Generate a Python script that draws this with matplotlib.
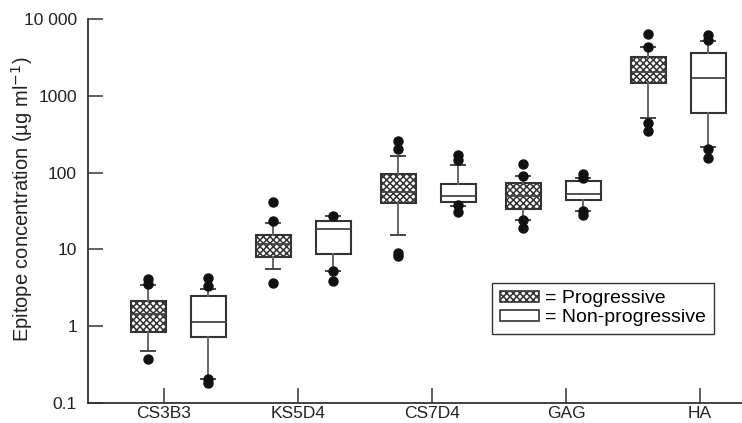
import matplotlib.pyplot as plt
from matplotlib.patches import Patch
from matplotlib.ticker import FixedLocator, NullLocator

plt.rcParams['font.family'] = ['Liberation Sans', 'DejaVu Sans']
plt.rcParams['hatch.linewidth'] = 1.1
plt.rcParams['hatch.color'] = '#333333'

# epitope groups and the five-number summaries
groups = ['CS3B3', 'KS5D4', 'CS7D4', 'GAG', 'HA']

prog_whislo = [0.47, 5.6, 15.2, 23.8, 510]
prog_q1 = [0.85, 7.9, 39.6, 33.1, 1460]
prog_med = [1.45, 11.8, 55.6, 50.3, 2070]
prog_q3 = [2.1, 15.6, 96, 72.8, 3180]
prog_whishi = [3.45, 21.9, 165, 89.8, 4300]
prog_fliers = [[0.37, 3.55, 4.13], [3.63, 23.1, 41.2], [8.15, 8.9, 202, 256],
               [18.9, 23.8, 91.6, 130], [353, 444, 4300, 6400]]

nonp_whislo = [0.206, 5.3, 36.2, 31.4, 214]
nonp_q1 = [0.72, 8.6, 42.0, 44.1, 599]
nonp_med = [1.15, 18.2, 49.3, 51.9, 1730]
nonp_q3 = [2.44, 23.1, 71.3, 78, 3590]
nonp_whishi = [3.06, 27.1, 124, 84.6, 5140]
nonp_fliers = [[0.181, 0.206, 3.29, 4.22], [3.82, 5.3, 27.1], [30.5, 37.3, 144, 170],
               [28.1, 31.4, 84.6, 96.2], [155, 204, 5400, 6100]]

tick_pos = [-0.112 + 1.072 * i for i in range(len(groups))]


def make_stats(lo, q1, med, q3, hi, fl):
    return [dict(whislo=a, q1=b, med=c, q3=d, whishi=e, fliers=f)
            for a, b, c, d, e, f in zip(lo, q1, med, q3, hi, fl)]


fig = plt.figure(figsize=(7.42, 4.23), dpi=100)
ax = fig.add_axes([0.1186, 0.0473, 0.8814, 0.9078])

edge = '#333333'
common = dict(widths=0.28, capwidths=0.11, patch_artist=True, showfliers=True,
              whiskerprops=dict(color='#666666', linewidth=1.4),
              capprops=dict(color='#444444', linewidth=1.4),
              medianprops=dict(color='#444444', linewidth=1.3),
              flierprops=dict(marker='o', markerfacecolor='#111111',
                              markeredgecolor='#111111', markersize=6.5))

pos = list(range(len(groups)))
b1 = ax.bxp(make_stats(prog_whislo, prog_q1, prog_med, prog_q3, prog_whishi, prog_fliers),
            positions=[p - 0.24 for p in pos],
            boxprops=dict(facecolor='white', edgecolor=edge, linewidth=1.5, hatch='xxxxx'),
            **common)
b2 = ax.bxp(make_stats(nonp_whislo, nonp_q1, nonp_med, nonp_q3, nonp_whishi, nonp_fliers),
            positions=[p + 0.24 for p in pos],
            boxprops=dict(facecolor='white', edgecolor=edge, linewidth=1.5),
            **common)

ax.set_yscale('log')
ax.set_ylim(0.1, 10000)
ax.set_xlim(-0.72, 4.512)
ax.yaxis.set_major_locator(FixedLocator([0.1, 1, 10, 100, 1000, 10000]))
ax.yaxis.set_minor_locator(NullLocator())
ax.set_yticklabels(['0.1', '1', '10', '100', '1000', '10 000'])
ax.set_xticks(tick_pos)
ax.set_xticklabels(groups)

for s in ['top', 'right']:
    ax.spines[s].set_visible(False)
for s in ['left', 'bottom']:
    ax.spines[s].set_color('#333333')
    ax.spines[s].set_linewidth(1.3)

ax.tick_params(axis='both', direction='in', length=11, width=1.2, color='#444444',
               labelcolor='#222222')
ax.tick_params(axis='y', pad=8, labelsize=12.5)
ax.tick_params(axis='x', pad=2, labelsize=12.5)

ax.set_ylabel('Epitope concentration (µg ml$^{-1}$)', fontsize=14.5, color='#222222')
ax.yaxis.set_label_coords(-0.081, 0.53)

handles = [Patch(facecolor='white', edgecolor=edge, hatch='xxxxx', linewidth=1.2),
           Patch(facecolor='white', edgecolor=edge, linewidth=1.2)]
leg = fig.legend(handles, ['= Progressive', '= Non-progressive'], loc='lower left',
                 bbox_to_anchor=(0.663, 0.21), fontsize=14, frameon=True, fancybox=False,
                 framealpha=1, edgecolor='#333333', handlelength=2.0, handleheight=0.55,
                 handletextpad=0.35, labelspacing=0.1, borderpad=0.4, borderaxespad=0)
leg.get_frame().set_linewidth(1.0)

fig.savefig('out.png', dpi=100)
